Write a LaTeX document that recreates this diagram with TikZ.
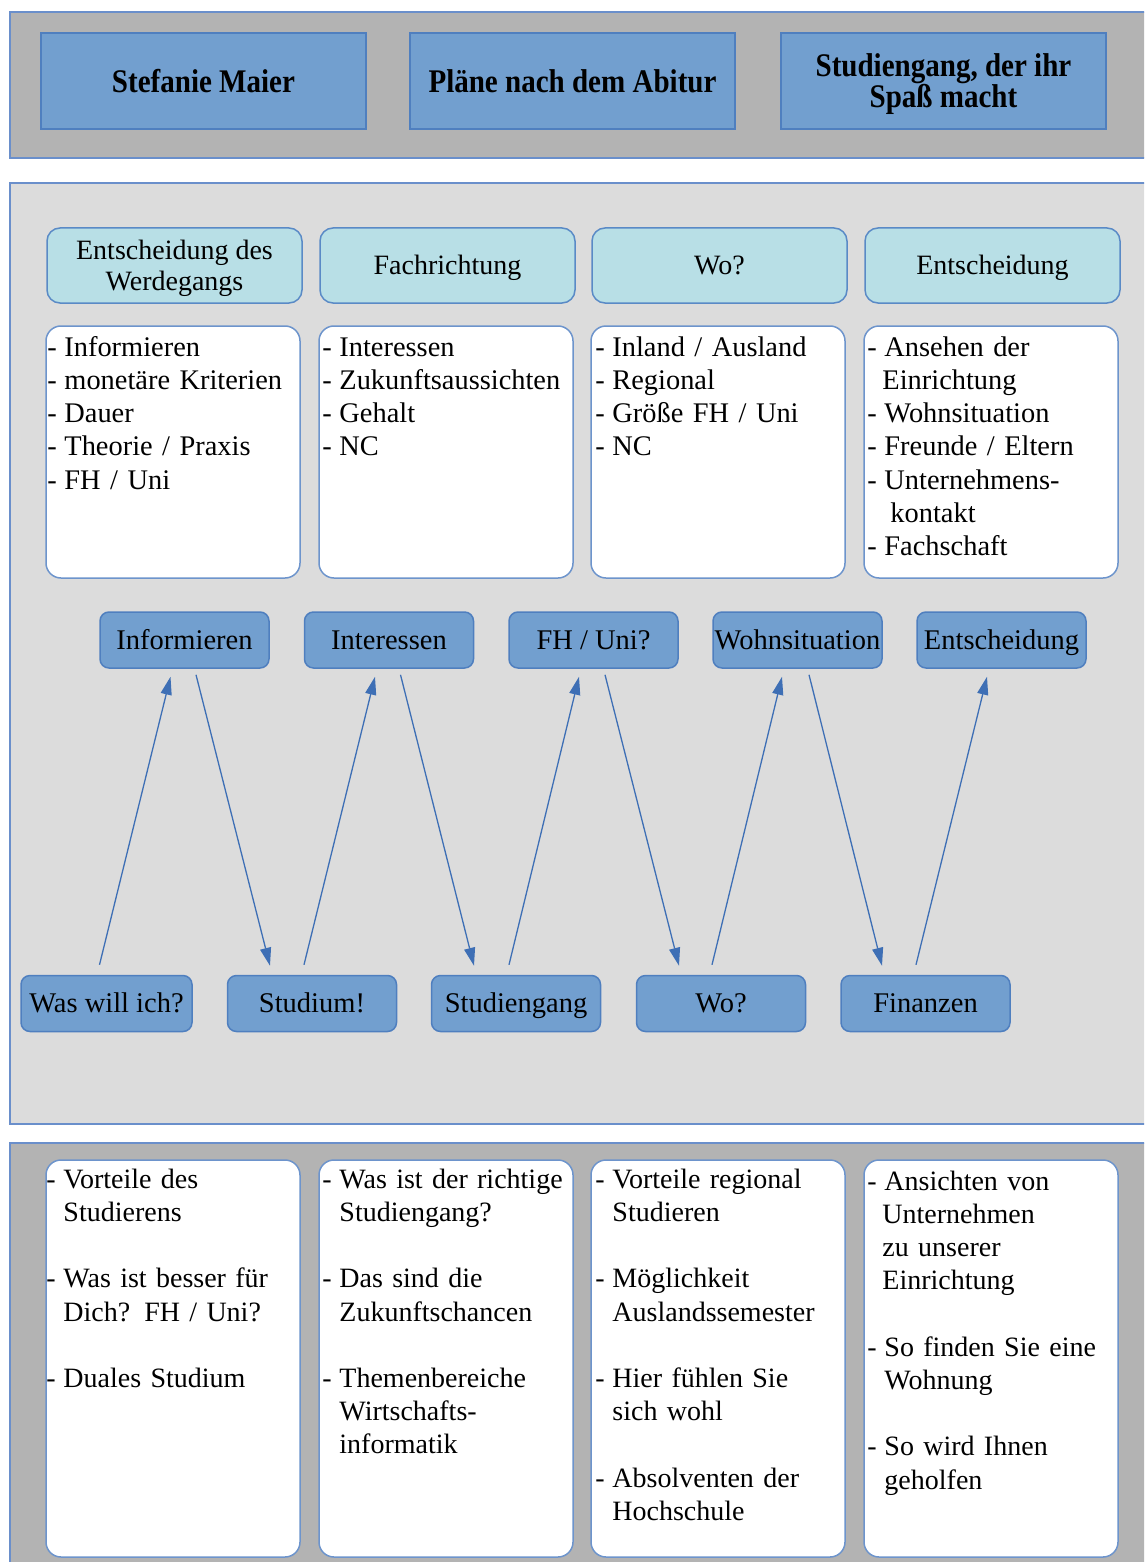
\documentclass[tikz,border=0pt]{standalone}
\usepackage{fontspec}
\setmainfont{LiberationSerif}[Extension=.ttf,UprightFont=*-Regular,BoldFont=*-Bold,ItalicFont=*-Italic,BoldItalicFont=*-BoldItalic]
\newfontfamily\cbold{LiberationSerif}[Extension=.ttf,UprightFont=*-Bold,FakeStretch=0.88]
\usetikzlibrary{arrows.meta}
\definecolor{bandgray}{HTML}{B3B3B3}
\definecolor{midgray}{HTML}{DCDCDC}
\definecolor{panelline}{HTML}{6A8FCB}
\definecolor{boxblue}{HTML}{729FCF}
\definecolor{boxborder}{HTML}{4F7FBF}
\definecolor{hdrcyan}{HTML}{B8DFE6}
\definecolor{hdrborder}{HTML}{5A8AC6}
\definecolor{wborder}{HTML}{6D94CC}
\definecolor{arrowblue}{HTML}{3E6FB5}
\newcommand{\dl}{\makebox[17pt][l]{-}}
\newcommand{\ind}{\hspace*{17pt}}
\begin{document}
\begin{tikzpicture}[x=1pt,y=-1pt,
  panel/.style={draw=panelline,line width=2pt},
  topbox/.style={draw=boxborder,fill=boxblue,line width=1.5pt,minimum width=325pt,minimum height=96pt,inner sep=0pt,align=center,font=\cbold\fontsize{33}{31}\selectfont},
  hdr/.style={draw=hdrborder,fill=hdrcyan,line width=1.5pt,rounded corners=13pt,minimum width=255pt,minimum height=75pt,inner sep=0pt,align=center,font=\fontsize{28}{31}\selectfont},
  hdrone/.style={hdr,text height=22pt,text depth=4pt},
  wbox/.style={draw=wborder,fill=white,line width=1.5pt,rounded corners=15pt,minimum width=254pt,inner sep=0pt},
  txt/.style={anchor=base west,inner sep=0pt,text width=262pt,align=left,font=\fontsize{28}{33.2}\selectfont},
  midtxt/.style={txt,font=\fontsize{28.4}{33.2}\selectfont},
  stepbox/.style={draw=boxborder,fill=boxblue,line width=1.5pt,rounded corners=9pt,minimum width=169pt,minimum height=56pt,inner sep=0pt,text height=22pt,text depth=4pt,font=\fontsize{28.5}{30}\selectfont},
  arr/.style={draw=arrowblue,line width=1.3pt,-{Triangle[length=18pt,width=11pt]}}
]
\useasboundingbox (0,0) rectangle (1144,1562);
\clip (0,0) rectangle (1144,1562);
\fill[white] (0,0) rectangle (1144,1562);
% panels
\draw[panel,fill=bandgray] (10,12) rectangle (1170,158);
\draw[panel,fill=midgray] (10,183) rectangle (1170,1124);
\draw[panel,fill=bandgray] (10,1143) rectangle (1170,1600);
% top boxes
\node[topbox] (t1) at (203.5,81) {Stefanie Maier};
\node[topbox] (t2) at (572.5,81) {Pläne nach dem Abitur};
\node[topbox] (t3) at (943.5,81) {\rule{0pt}{30pt}Studiengang, der ihr\\Spaß macht};
% headers
\node[hdr] (h1) at (174.5,265.5) {\rule{0pt}{25pt}Entscheidung des\\Werdegangs};
\node[hdrone] (h2) at (447.5,265.5) {Fachrichtung};
\node[hdrone] (h3) at (719.5,265.5) {Wo?};
\node[hdrone] (h4) at (992.5,265.5) {Entscheidung};
% middle white boxes
\node[wbox,minimum height=252pt] (w1) at (173,452) {};
\node[wbox,minimum height=252pt] (w2) at (446,452) {};
\node[wbox,minimum height=252pt] (w3) at (718,452) {};
\node[wbox,minimum height=252pt] (w4) at (991,452) {};
\node[midtxt] (w1t) at ([xshift=2pt,yshift=-31pt]w1.north west) {\dl Informieren\\\dl monetäre Kriterien\\\dl Dauer\\\dl Theorie / Praxis\\\dl FH / Uni};
\node[midtxt] (w2t) at ([xshift=4pt,yshift=-31pt]w2.north west) {\dl Interessen\\\dl Zukunftsaussichten\\\dl Gehalt\\\dl NC};
\node[midtxt] (w3t) at ([xshift=5pt,yshift=-31pt]w3.north west) {\dl Inland / Ausland\\\dl Regional\\\dl Größe FH / Uni\\\dl NC};
\node[midtxt] (w4t) at ([xshift=4pt,yshift=-31pt]w4.north west) {\dl Ansehen der\\\hspace*{15pt}Einrichtung\\\dl Wohnsituation\\\dl Freunde / Eltern\\\dl Unternehmens-\\\hspace*{23pt}kontakt\\\dl Fachschaft};
% step boxes upper
\node[stepbox] (u1) at (184.5,640) {Informieren};
\node[stepbox] (u2) at (389,640) {Interessen};
\node[stepbox] (u3) at (593.5,640) {FH / Uni?};
\node[stepbox] (u4) at (797.5,640) {Wohnsituation};
\node[stepbox] (u5) at (1001.5,640) {Entscheidung};
% step boxes lower
\node[stepbox,minimum width=171pt] (d1) at (106.5,1003.5) {Was will ich?};
\node[stepbox] (d2) at (312,1003.5) {Studium!};
\node[stepbox] (d3) at (516,1003.5) {Studiengang};
\node[stepbox] (d4) at (721,1003.5) {Wo?};
\node[stepbox] (d5) at (925.5,1003.5) {Finanzen};
% arrows
\draw[arr] ([xshift=-7pt,yshift=10pt]d1.north) -- ([xshift=-14pt,yshift=-8pt]u1.south);
\draw[arr] ([xshift=11.5pt,yshift=-6pt]u1.south) -- ([xshift=-42pt,yshift=9pt]d2.north);
\draw[arr] ([xshift=-8pt,yshift=10pt]d2.north) -- ([xshift=-14pt,yshift=-8pt]u2.south);
\draw[arr] ([xshift=11.5pt,yshift=-6pt]u2.south) -- ([xshift=-42pt,yshift=9pt]d3.north);
\draw[arr] ([xshift=-7pt,yshift=10pt]d3.north) -- ([xshift=-14.5pt,yshift=-8pt]u3.south);
\draw[arr] ([xshift=11.5pt,yshift=-6pt]u3.south) -- ([xshift=-42pt,yshift=9pt]d4.north);
\draw[arr] ([xshift=-9pt,yshift=10pt]d4.north) -- ([xshift=-15.5pt,yshift=-8pt]u4.south);
\draw[arr] ([xshift=11.5pt,yshift=-6pt]u4.south) -- ([xshift=-43.5pt,yshift=9pt]d5.north);
\draw[arr] ([xshift=-9.5pt,yshift=10pt]d5.north) -- ([xshift=-14.5pt,yshift=-8pt]u5.south);
% bottom white boxes
\node[wbox,minimum height=397pt] (b1) at (173,1358.5) {};
\node[wbox,minimum height=397pt] (b2) at (446,1358.5) {};
\node[wbox,minimum height=397pt] (b3) at (718,1358.5) {};
\node[wbox,minimum height=397pt] (b4) at (991,1358.5) {};
\node[txt] (b1t) at ([xshift=1pt,yshift=-29pt]b1.north west) {\dl Vorteile des\\\ind Studierens\\\mbox{}\\\dl Was ist besser für\\\ind Dich? FH / Uni?\\\mbox{}\\\dl Duales Studium};
\node[txt] (b2t) at ([xshift=4pt,yshift=-29pt]b2.north west) {\dl Was ist der richtige\\\ind Studiengang?\\\mbox{}\\\dl Das sind die\\\ind Zukunftschancen\\\mbox{}\\\dl Themenbereiche\\\ind Wirtschafts-\\\ind informatik};
\node[txt] (b3t) at ([xshift=5pt,yshift=-29pt]b3.north west) {\dl Vorteile regional\\\ind Studieren\\\mbox{}\\\dl Möglichkeit\\\ind Auslandssemester\\\mbox{}\\\dl Hier fühlen Sie\\\ind sich wohl\\\mbox{}\\\dl Absolventen der\\\ind Hochschule};
\node[txt] (b4t) at ([xshift=4pt,yshift=-31pt]b4.north west) {\dl Ansichten von\\\hspace*{15pt}Unternehmen\\\hspace*{15pt}zu unserer\\\hspace*{15pt}Einrichtung\\\mbox{}\\\dl So finden Sie eine\\\ind Wohnung\\\mbox{}\\\dl So wird Ihnen\\\ind geholfen};
\end{tikzpicture}
\end{document}
